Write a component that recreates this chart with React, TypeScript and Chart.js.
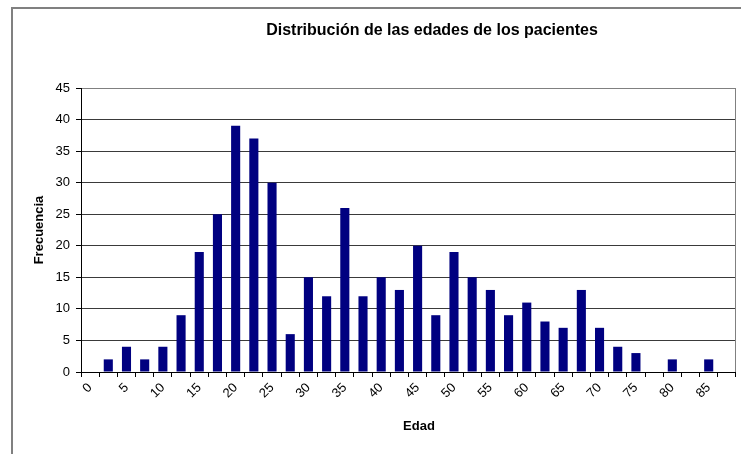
import React, { useEffect, useRef } from "react";
import { Chart, registerables } from "chart.js";

Chart.register(...registerables);

// ---- Data ----
const ageBins: number[] = [
  0, 2.5, 5, 7.5, 10, 12.5, 15, 17.5, 20, 22.5, 25, 27.5, 30, 32.5, 35, 37.5, 40, 42.5,
  45, 47.5, 50, 52.5, 55, 57.5, 60, 62.5, 65, 67.5, 70, 72.5, 75, 77.5, 80, 82.5, 85, 87.5,
];
const frequencies: number[] = [
  0, 2, 4, 2, 4, 9, 19, 25, 39, 37, 30, 6, 15, 12, 26, 12, 15, 13,
  20, 9, 19, 15, 13, 9, 11, 8, 7, 13, 7, 4, 3, 0, 2, 0, 2, 0,
];
const yMin = 0;
const yMax = 45;
const yStep = 5;
const labelEvery = 5; // only ages that are multiples of 5 get a label

const chartTitle = "Distribución de las edades de los pacientes";
const xTitle = "Edad";
const yTitle = "Frecuencia";

const FONT = "'Liberation Sans', Arial, sans-serif";
const W = 741;
const H = 454;

const textPlugin = {
  id: "excelTexts",
  beforeDatasetsDraw(chart: any) {
    const { ctx, chartArea: a } = chart;
    ctx.save();
    ctx.strokeStyle = "#808080";
    ctx.lineWidth = 1;
    ctx.beginPath();
    ctx.moveTo(Math.round(a.right) - 0.5, Math.round(a.top) + 0.5);
    ctx.lineTo(Math.round(a.right) - 0.5, Math.round(a.bottom));
    ctx.stroke();
    ctx.restore();
  },
  afterDraw(chart: any) {
    const { ctx } = chart;
    ctx.save();
    ctx.fillStyle = "#000";
    ctx.textAlign = "center";
    ctx.textBaseline = "middle";
    ctx.font = `bold 16px ${FONT}`;
    ctx.fillText(chartTitle, 432, 31);
    ctx.font = `bold 13px ${FONT}`;
    ctx.fillText(xTitle, 419, 426);
    ctx.translate(39, 230);
    ctx.rotate(-Math.PI / 2);
    ctx.fillText(yTitle, 0, 0);
    ctx.restore();
  },
};

export default function App() {
  const canvasRef = useRef<HTMLCanvasElement | null>(null);

  useEffect(() => {
    if (!canvasRef.current) return;
    const chart = new Chart(canvasRef.current, {
      type: "bar",
      data: {
        labels: ageBins.map((a) => String(a)),
        datasets: [
          {
            label: yTitle,
            data: frequencies,
            backgroundColor: "#000080",
            borderWidth: 0,
            barPercentage: 0.5,
            categoryPercentage: 1,
          },
        ],
      },
      options: {
        animation: false,
        responsive: false,
        devicePixelRatio: 1,
        layout: { padding: { top: 88, left: 0, right: 5, bottom: 0 } },
        plugins: {
          legend: { display: false },
          title: { display: false },
          tooltip: { enabled: false },
        },
        scales: {
          x: {
            offset: true,
            afterFit: (s: any) => {
              s.height = 82;
            },
            grid: {
              offset: true,
              drawOnChartArea: false,
              drawTicks: true,
              tickLength: 5,
              tickColor: "#000",
            },
            border: { display: true, color: "#000", width: 1 },
            ticks: {
              autoSkip: false,
              minRotation: 45,
              maxRotation: 45,
              padding: 3,
              color: "#000",
              font: { family: FONT, size: 13 },
              callback: (_v: any, i: number) =>
                ageBins[i] % labelEvery === 0 ? String(ageBins[i]) : "",
            },
          },
          y: {
            min: yMin,
            max: yMax,
            afterFit: (s: any) => {
              s.width = 81;
            },
            grid: {
              color: (c: any) => (c.tick && c.tick.value === yMax ? "#808080" : "#3a3a3a"),
              lineWidth: 1,
              drawTicks: true,
              tickLength: 5,
              tickColor: "#000",
            },
            border: { display: true, color: "#000", width: 1 },
            ticks: {
              stepSize: yStep,
              padding: 6,
              color: "#000",
              font: { family: FONT, size: 13 },
            },
          },
        },
      },
      plugins: [textPlugin],
    });
    return () => chart.destroy();
  }, []);

  return (
    <div
      style={{
        position: "fixed",
        left: 0,
        top: 0,
        width: W,
        height: H,
        overflow: "hidden",
        background: "#fff",
      }}
    >
      <canvas ref={canvasRef} width={W} height={H} style={{ display: "block" }} />
      <div
        style={{
          position: "absolute",
          left: 11,
          top: 7,
          width: 800,
          height: 500,
          borderLeft: "2px solid #808080",
          borderTop: "2px solid #808080",
          pointerEvents: "none",
        }}
      />
    </div>
  );
}
